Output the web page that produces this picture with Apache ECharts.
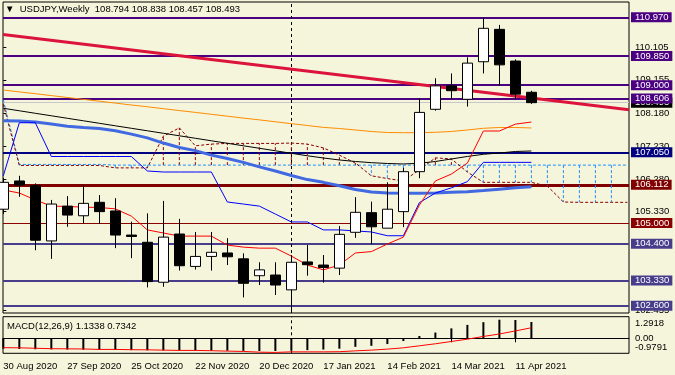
<!DOCTYPE html>
<html>
<head>
<meta charset="utf-8">
<script src="https://cdn.jsdelivr.net/npm/echarts@6/dist/echarts.min.js"></script>
<style>html,body{margin:0;padding:0;background:#F5F5DC}#c{width:675px;height:375px}</style>
</head>
<body>
<div id="c"></div>
<script>
// ---------- data ----------
const dateLabels = ['30 Aug 2020','27 Sep 2020','25 Oct 2020','22 Nov 2020','20 Dec 2020','17 Jan 2021','14 Feb 2021','14 Mar 2021','11 Apr 2021'];
const dateIdx = [0,4,8,12,16,20,24,28,32];

const opens  = [105.40,106.22,106.08,104.48,105.49,105.21,105.60,105.35,104.65,104.44,103.28,104.68,103.74,104.03,104.13,103.96,103.47,103.49,103.06,103.87,103.78,103.69,104.73,105.30,104.85,105.33,106.49,108.30,108.98,108.59,109.68,110.62,109.70,108.794];
const closes = [106.18,106.10,104.50,105.55,105.23,105.57,105.33,104.65,104.61,103.30,104.59,103.76,104.03,104.15,104.02,103.25,103.64,103.20,103.86,103.79,103.71,104.67,105.31,104.89,105.40,106.49,108.21,108.98,108.84,109.64,110.65,109.59,108.74,108.493];
const highs  = [106.31,106.37,106.15,105.67,105.78,106.10,105.81,105.72,105.04,105.28,105.64,105.12,104.74,104.74,104.56,104.12,103.86,103.86,104.07,104.36,104.07,104.91,105.75,105.62,106.18,106.60,108.62,109.20,109.34,109.81,110.97,110.75,109.75,108.838];
const lows   = [105.26,105.76,104.21,103.96,104.89,104.99,104.97,104.27,103.98,103.13,103.15,103.62,103.65,103.62,103.78,102.84,103.20,102.91,102.47,103.47,103.27,103.49,104.57,104.38,104.85,104.88,106.30,108.26,108.59,108.38,109.34,108.98,108.59,108.457];

const tenkan = [105.96,105.87,105.67,105.49,105.48,105.46,105.45,105.41,105.20,104.80,104.71,104.62,104.62,104.62,104.36,104.30,104.27,104.27,104.04,103.78,103.64,103.78,104.13,104.17,104.39,104.59,105.52,106.22,106.42,106.74,107.67,107.67,107.87,107.93];
const kijun  = [106.37,107.91,107.91,106.93,106.93,106.93,106.93,106.93,106.93,106.51,106.48,106.48,106.48,106.48,105.61,105.55,105.49,105.26,105.03,105.03,104.80,104.80,104.77,104.74,104.63,104.63,105.59,105.87,106.02,106.20,106.76,106.76,106.76,106.76];
const spanA  = [108.57,106.70,106.70,106.70,106.70,106.70,106.70,106.68,106.68,106.68,106.68,106.68,106.68,106.68,106.68,106.68,106.68,106.68,106.68,106.68,106.68,106.68,106.68,106.68,106.68,106.68,106.68,106.68,106.68,106.68,106.68,106.68,106.68,106.68,106.68,106.68,106.68,106.68,106.68,106.68];
const spanB  = [108.45,106.67,106.67,106.67,106.67,106.67,106.67,106.60,106.60,106.60,107.52,107.76,107.24,107.29,107.31,107.31,107.31,107.31,107.32,107.29,107.18,106.97,106.74,106.37,106.29,106.22,106.54,106.89,106.86,106.48,106.18,106.18,106.18,106.18,106.07,105.61,105.60,105.60,105.60,105.60];
const maOrange = [108.860,108.805,108.753,108.698,108.643,108.588,108.535,108.480,108.425,108.373,108.318,108.263,108.210,108.155,108.100,108.045,107.993,107.938,107.883,107.830,107.775,107.743,107.700,107.656,107.627,107.621,107.621,107.633,107.656,107.700,107.749,107.772,107.772,107.758];
const maBlack  = [108.329,108.257,108.184,108.112,108.039,107.967,107.894,107.821,107.749,107.676,107.604,107.531,107.459,107.386,107.314,107.241,107.169,107.096,107.023,106.951,106.887,106.829,106.785,106.751,106.727,106.713,106.733,106.785,106.858,106.931,106.994,107.032,107.076,107.090];
const maBlue   = [107.97,107.96,107.93,107.87,107.81,107.77,107.74,107.68,107.58,107.47,107.32,107.19,107.10,106.97,106.87,106.76,106.63,106.51,106.38,106.26,106.18,106.08,105.97,105.90,105.87,105.86,105.86,105.87,105.89,105.91,105.94,105.98,106.02,106.05];

const trendX = [-0.02, 39.1];
const trendY = [110.47, 108.29];

const levelValues = [108.493,110.970,109.850,109.000,108.606,107.050,106.112,105.000,104.400,103.330,102.600];
const levelColors = ['#000000','#4B0082','#4B0082','#4B0082','#4B0082','#000080','#800000','#8B0000','#483D8B','#483D8B','#483D8B'];

const yTickLabels = [110.105,109.155,108.180,107.230,106.280,105.330,102.455];

const macd   = [-0.72,-0.74,-0.76,-0.77,-0.78,-0.79,-0.80,-0.81,-0.82,-0.83,-0.84,-0.84,-0.85,-0.86,-0.86,-0.87,-0.88,-0.88,-0.86,-0.82,-0.78,-0.72,-0.59,-0.52,-0.40,-0.19,0.16,0.40,0.69,0.93,1.12,1.2918,1.27,1.1338];
const signal = [-0.65,-0.66,-0.69,-0.72,-0.73,-0.74,-0.77,-0.77,-0.79,-0.80,-0.82,-0.84,-0.84,-0.86,-0.89,-0.91,-0.96,-0.9791,-0.94,-0.94,-0.94,-0.93,-0.87,-0.82,-0.75,-0.66,-0.52,-0.38,-0.22,-0.06,0.13,0.30,0.51,0.7342];
const macdEdgeLabels = ['-0.9791','1.2918'];
const macdZeroLabel = '0.00';
const separatorIdx = 18;

// ---------- chart ----------
const FONT = '"Liberation Sans", Arial, sans-serif';
const FS = 9.5;
const X_MIN = -0.02, X_MAX = 39.1;
const MACD_MIN = -1.04, MACD_MAX = 1.50;
const pxPerMacd = 36.6 / (MACD_MAX - MACD_MIN);
const macdEdgePos = [-0.9791 + 5 / pxPerMacd, 1.2918 - 4 / pxPerMacd];

const last = opens.length - 1;
const pair = a => a.map((v, i) => [i, v]);
const lineS = (data, color, width, dash, z) => ({
  type: 'line', xAxisIndex: 0, yAxisIndex: 0, data: pair(data), symbol: 'none', silent: true, z: z || 2,
  lineStyle: { color: color, width: width, type: dash || 'solid' }
});
const nearestIdx = (arr, v) => { let k = 0, d = 1e9; arr.forEach((p, j) => { if (Math.abs(p - v) < d) { d = Math.abs(p - v); k = j; } }); return k; };
const macdAxisBase = {
  type: 'value', gridIndex: 1, position: 'right', min: MACD_MIN, max: MACD_MAX,
  axisLine: { show: false }, axisTick: { show: false }, splitLine: { show: false }
};

const chart = echarts.init(document.getElementById('c'));
chart.setOption({
  animation: false,
  backgroundColor: '#F5F5DC',
  textStyle: { fontFamily: FONT },
  title: [
    { text: '\u25BC  USDJPY,Weekly  ' + [opens[last], highs[last], lows[last], closes[last]].map(v => v.toFixed(3)).join(' '),
      left: 5, top: 4, padding: 0, textStyle: { fontSize: FS, fontWeight: 'normal', color: '#000', fontFamily: FONT } },
    { text: 'MACD(12,26,9) ' + macd[last].toFixed(4) + ' ' + signal[last].toFixed(4),
      left: 7, top: 321, padding: 0, textStyle: { fontSize: FS, fontWeight: 'normal', color: '#000', fontFamily: FONT } }
  ],
  grid: [
    { left: 3, right: 46, top: 2, height: 311, show: true, borderColor: '#000', borderWidth: 1, backgroundColor: 'transparent' },
    { left: 3, right: 46, top: 316.7, height: 36.6, show: true, borderColor: '#000', borderWidth: 1, backgroundColor: 'transparent' }
  ],
  xAxis: [
    { type: 'value', gridIndex: 0, min: X_MIN, max: X_MAX, axisLine: { show: false }, axisTick: { show: false }, axisLabel: { show: false }, splitLine: { show: false } },
    { type: 'value', gridIndex: 1, min: X_MIN, max: X_MAX,
      axisLine: { show: true, lineStyle: { color: '#000' } },
      axisTick: { show: true, customValues: dateIdx, length: 4, lineStyle: { color: '#000' } },
      axisLabel: { customValues: dateIdx, formatter: v => dateLabels[dateIdx.indexOf(Math.round(v))], align: 'left', margin: 8, fontSize: FS, color: '#000', fontFamily: FONT },
      splitLine: { show: false } }
  ],
  yAxis: [
    { type: 'value', gridIndex: 0, position: 'right', min: 102.388, max: 111.414,
      axisLine: { show: false },
      axisTick: { show: true, customValues: yTickLabels.slice().sort((a, b) => a - b), length: 3, lineStyle: { color: '#000' } },
      axisLabel: { customValues: yTickLabels.slice().sort((a, b) => a - b), formatter: v => v.toFixed(3), margin: 6, fontSize: FS, color: '#000', fontFamily: FONT },
      splitLine: { show: false } },
    Object.assign({}, macdAxisBase, {
      axisLabel: { customValues: macdEdgePos, formatter: v => macdEdgeLabels[nearestIdx(macdEdgePos, v)],
        margin: 6, fontSize: FS, color: '#000', fontFamily: FONT } }),
    Object.assign({}, macdAxisBase, {
      axisLabel: { customValues: [0], formatter: () => macdZeroLabel,
        margin: 6, fontSize: FS, color: '#000', fontFamily: FONT } })
  ],
  series: [
    // trend line + horizontal levels
    { type: 'line', xAxisIndex: 0, yAxisIndex: 0, symbol: 'none', silent: true, z: 2,
      data: trendX.map((x, i) => [x, trendY[i]]),
      lineStyle: { color: '#DC143C', width: 3 },
      markLine: {
        silent: true, symbol: ['none', 'none'], z: 1, animation: false,
        data: levelValues.map((v, i) => ({
          yAxis: v,
          lineStyle: { color: i === 0 ? '#C8C8C8' : levelColors[i], width: i === 0 ? 1 : (i === 6 ? 3 : (i === 7 ? 1.2 : 2)), type: 'solid' },
          label: { show: true, position: 'end', distance: 2, formatter: v.toFixed(3), backgroundColor: levelColors[i], color: '#fff',
            padding: [0, 3, 0, 4], lineHeight: 10, fontSize: FS, fontFamily: FONT }
        }))
      }
    },
    // Ichimoku cloud hatching
    { type: 'custom', xAxisIndex: 0, yAxisIndex: 0, silent: true, z: 2,
      data: spanA.map((a, i) => [i, a, spanB[i]]).filter(d => d[0] >= 1 && d[0] <= 38),
      encode: { x: 0, y: [1, 2] },
      renderItem: (params, api) => {
        const i = api.value(0), a = api.value(1), b = api.value(2);
        const p1 = api.coord([i, a]), p2 = api.coord([i, b]);
        return { type: 'line', shape: { x1: p1[0], y1: p1[1], x2: p2[0], y2: p2[1] },
          style: { stroke: a >= b ? '#1E90FF' : '#8B0000', lineWidth: 1, lineDash: [3, 2] } };
      }
    },
    lineS(spanA, '#1E90FF', 1, [3, 2]),
    lineS(spanB, '#8B0000', 1, [3, 2]),
    lineS(maOrange, '#FF8C00', 1),
    lineS(maBlack, '#000000', 1),
    lineS(maBlue, '#4169E1', 3),
    lineS(kijun, '#0000FF', 1),
    lineS(tenkan, '#FF0000', 1),
    // candles
    { type: 'candlestick', xAxisIndex: 0, yAxisIndex: 0, z: 4, barWidth: 10, silent: true,
      data: opens.map((o, i) => [i, o, closes[i], lows[i], highs[i]]),
      encode: { x: 0, y: [1, 2, 3, 4] },
      itemStyle: { color: '#FFFFFF', color0: '#000000', borderColor: '#000000', borderColor0: '#000000', borderColorDoji: '#000000', borderWidth: 1 },
      markLine: { silent: true, symbol: ['none', 'none'], z: 1, label: { show: false },
        data: [{ xAxis: separatorIdx, lineStyle: { color: '#000', type: [3, 3], width: 1 } }] }
    },
    // MACD
    { type: 'bar', xAxisIndex: 1, yAxisIndex: 1, barWidth: 2, silent: true, data: pair(macd), itemStyle: { color: '#000' }, z: 2,
      markLine: { silent: true, symbol: ['none', 'none'], z: 1, label: { show: false },
        data: [{ xAxis: separatorIdx, lineStyle: { color: '#000', type: [3, 3], width: 1 } }] } },
    { type: 'line', xAxisIndex: 1, yAxisIndex: 1, symbol: 'none', silent: true, data: pair(signal), lineStyle: { color: '#FF0000', width: 1 }, z: 3 }
  ]
});
</script>
</body>
</html>
